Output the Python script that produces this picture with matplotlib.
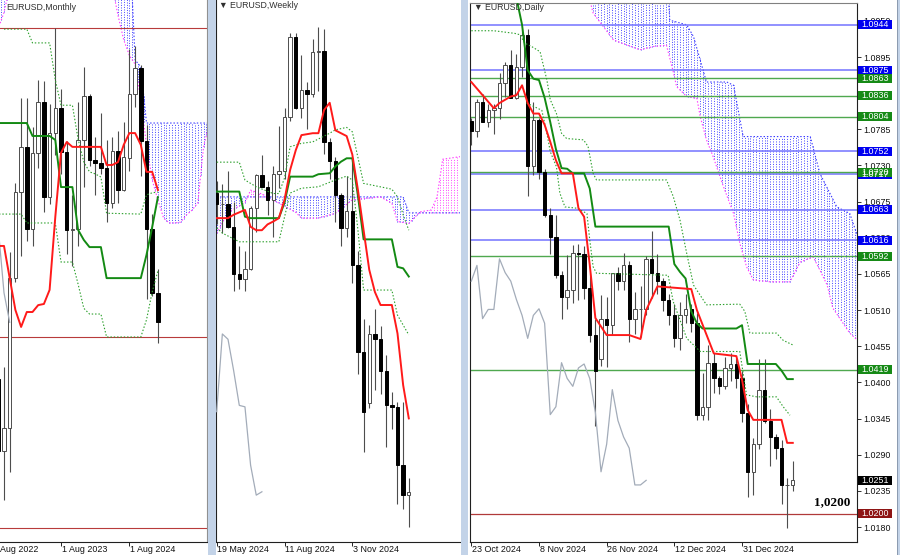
import numpy as np
import matplotlib
matplotlib.use('Agg')
import matplotlib.pyplot as plt
from matplotlib.patches import Rectangle
import matplotlib.transforms as mtransforms

plt.rcParams['font.family'] = ['Liberation Sans', 'DejaVu Sans']

# ---------------- monthly (Sep 2022 .. Jan 2025), idx 0 = Oct 2022
m_idx = np.arange(-1, 28)
m_open = [1.0054, 0.9802, 0.9884, 1.0406, 1.0705, 1.0863, 1.0576, 1.0839, 1.1017, 1.0689,
          1.0909, 1.0997, 1.0843, 1.0573, 1.0575, 1.0887, 1.1039, 1.0818, 1.0805, 1.0790,
          1.0667, 1.0848, 1.0713, 1.0825, 1.1047, 1.1135, 1.0882, 1.0577, 1.0354]
m_high = [1.0198, 1.0094, 1.0497, 1.0736, 1.1033, 1.1032, 1.0930, 1.1095, 1.1092, 1.1012,
          1.1276, 1.1065, 1.0882, 1.0695, 1.1017, 1.1140, 1.1046, 1.0898, 1.0981, 1.0885,
          1.0895, 1.0916, 1.0948, 1.1202, 1.1214, 1.1147, 1.0937, 1.0630, 1.0437]
m_low = [0.9536, 0.9632, 0.9730, 1.0393, 1.0483, 1.0533, 1.0516, 1.0788, 1.0635, 1.0662,
         1.0834, 1.0766, 1.0488, 1.0448, 1.0517, 1.0723, 1.0795, 1.0695, 1.0768, 1.0601,
         1.0650, 1.0668, 1.0709, 1.0777, 1.1001, 1.0761, 1.0333, 1.0343, 1.0178]
m_close = [0.9802, 0.9884, 1.0406, 1.0705, 1.0863, 1.0576, 1.0839, 1.1017, 1.0689, 1.0909,
           1.0997, 1.0843, 1.0573, 1.0575, 1.0887, 1.1039, 1.0818, 1.0805, 1.0790, 1.0667,
           1.0848, 1.0713, 1.0825, 1.1047, 1.1135, 1.0882, 1.0577, 1.0354, 1.0251]
m_tenkan = [1.0517, 1.0517, 1.0405, 1.0294, 1.0235, 1.0287, 1.0287, 1.0311, 1.0315, 1.0364,
            1.0618, 1.0841, 1.0879, 1.0862, 1.0862, 1.0862, 1.0862, 1.0862, 1.0862, 1.0799,
            1.0799, 1.0809, 1.0869, 1.0910, 1.0910, 1.0869, 1.0775, 1.0775, 1.0712]
m_kijun = [1.0945, 1.0945, 1.0945, 1.0945, 1.0945, 1.0945, 1.0900, 1.0900, 1.0900, 1.0900,
           1.0886, 1.0722, 1.0722, 1.0722, 1.0573, 1.0538, 1.0513, 1.0513, 1.0513, 1.0405,
           1.0405, 1.0405, 1.0405, 1.0405, 1.0405, 1.0405, 1.0486, 1.0583, 1.0687]
m_dot_hi_x = [0, 4, 5, 8, 9, 10, 12, 13, 14, 15, 16, 17, 18, 24, 25, 26, 27]
m_dot_hi = [1.1272, 1.1272, 1.1224, 1.1224, 1.1095, 1.1007, 1.1007, 1.0889, 1.0810, 1.0775,
            1.0768, 1.0757, 1.0631, 1.0628, 1.0695, 1.0702, 1.0705]
m_dot_lo_x = [-1, 3, 4, 9, 10, 12, 13, 14, 15, 17, 18, 24, 25, 26, 27]
m_dot_lo = [1.0628, 1.0628, 1.0597, 1.0597, 1.0461, 1.0461, 1.0384, 1.0300, 1.0280, 1.0280,
            1.0200, 1.0200, 1.0260, 1.0357, 1.0430]
m_span_x = [-1, 0, 1, 2, 18, 19, 20, 21, 22, 23, 24, 25, 26, 27, 28, 29, 30, 31, 32, 33, 34, 35, 36]
m_span_a = [1.16, 1.16, 1.16, np.nan, np.nan, 1.16, 1.16, 1.16, 1.16, 1.1165, 1.1140, 1.0945,
            1.0945, 1.0945, 1.0945, 1.0945, 1.0945, 1.0945, 1.0945, 1.0945, 1.0945, 1.0945, 1.0945]
m_span_b = [1.1275, 1.1330, 1.1420, np.nan, np.nan, 1.1420, 1.1320, 1.1235, 1.1180, 1.1150,
            1.1025, 1.0869, 1.0747, 1.0677, 1.0614, 1.0597, 1.0597, 1.0600, 1.0625, 1.0642,
            1.0667, 1.0860, 1.0945]
m_levels = [1.1275, 1.0200, 0.9535]

# ---------------- weekly (19 May 2024 .. 12 Jan 2025)
w_idx = np.arange(35)
w_open = [1.0870, 1.0847, 1.0848, 1.0800, 1.0703, 1.0692, 1.0713, 1.0840, 1.0907, 1.0882,
          1.0856, 1.0910, 1.0916, 1.1027, 1.1193, 1.1047, 1.1083, 1.1075, 1.1163, 1.1164,
          1.0975, 1.0937, 1.0866, 1.0797, 1.0833, 1.0720, 1.0541, 1.0435, 1.0578, 1.0567,
          1.0502, 1.0430, 1.0427, 1.0306, 1.0244]
w_high = [1.0895, 1.0889, 1.0916, 1.0852, 1.0761, 1.0749, 1.0844, 1.0910, 1.0948, 1.0895,
          1.0926, 1.1009, 1.1047, 1.1202, 1.1201, 1.1155, 1.1100, 1.1190, 1.1214, 1.1210,
          1.0985, 1.0945, 1.0870, 1.0905, 1.0937, 1.0750, 1.0610, 1.0597, 1.0630, 1.0594,
          1.0535, 1.0457, 1.0437, 1.0436, 1.0280]
w_low = [1.0805, 1.0788, 1.0797, 1.0668, 1.0671, 1.0666, 1.0710, 1.0789, 1.0887, 1.0825,
         1.0778, 1.0880, 1.0900, 1.1020, 1.1045, 1.1026, 1.1002, 1.1068, 1.1081, 1.0950,
         1.0900, 1.0811, 1.0761, 1.0778, 1.0683, 1.0496, 1.0333, 1.0424, 1.0461, 1.0453,
         1.0343, 1.0382, 1.0226, 1.0215, 1.0178]
w_close = [1.0847, 1.0848, 1.0800, 1.0703, 1.0692, 1.0713, 1.0840, 1.0907, 1.0882, 1.0856,
           1.0910, 1.0916, 1.1027, 1.1193, 1.1047, 1.1083, 1.1075, 1.1163, 1.1164, 1.0975,
           1.0937, 1.0866, 1.0797, 1.0833, 1.0720, 1.0541, 1.0417, 1.0578, 1.0567, 1.0502,
           1.0430, 1.0427, 1.0306, 1.0244, 1.0251]
w_tenkan = [1.0818, 1.0818, 1.0818, 1.0825, 1.0830, 1.0835, 1.0800, 1.0793, 1.0793, 1.0805,
            1.0811, 1.0818, 1.0856, 1.0918, 1.0959, 1.0990, 1.0992, 1.0994, 1.0994, 1.1042,
            1.1057, 1.1000, 1.0994, 1.0988, 1.0950, 1.0876, 1.0793, 1.0711, 1.0665, 1.0638,
            1.0638, 1.0638, 1.0579, 1.0472, 1.0403]
w_kijun = [1.0873, 1.0873, 1.0873, 1.0873, 1.0873, 1.0821, 1.0818, 1.0818, 1.0818, 1.0818,
           1.0818, 1.0818, 1.0850, 1.0904, 1.0904, 1.0904, 1.0904, 1.0904, 1.0909, 1.0910,
           1.0911, 1.0925, 1.0935, 1.0942, 1.0942, 1.0864, 1.0774, 1.0774, 1.0774, 1.0774,
           1.0774, 1.0774, 1.0717, 1.0714, 1.0697]
w_dot_hi_x = [0, 4, 5, 7, 10, 11, 12, 13, 15, 17, 20, 21, 23, 24, 26, 31, 32, 33, 34]
w_dot_hi = [1.0934, 1.0934, 1.0897, 1.0883, 1.0869, 1.0869, 1.0901, 1.0966, 1.0973, 1.0976,
            1.0994, 1.1001, 1.1006, 1.0997, 1.0890, 1.0878, 1.0862, 1.0825, 1.0793]
w_dot_lo_x = [0, 1, 4, 11, 12, 13, 15, 18, 21, 23, 24, 25, 26, 31, 32, 34]
w_dot_lo = [1.0798, 1.0787, 1.0769, 1.0769, 1.0820, 1.0870, 1.0880, 1.0883, 1.0897, 1.0905,
            1.0897, 1.0793, 1.0669, 1.0669, 1.0617, 1.0576]
w_span_a_x = [0, 33, 34, 44]
w_span_a = [1.0862, 1.0862, 1.0829, 1.0829]
w_span_b_x = [0, 2, 5, 6, 8, 9, 14, 15, 18, 21, 24, 29, 31, 32, 34, 36, 38, 39, 40, 44]
w_span_b = [1.0787, 1.0830, 1.0850, 1.0876, 1.0868, 1.0862, 1.0830, 1.0818, 1.0818, 1.0828,
            1.0856, 1.0862, 1.0849, 1.0811, 1.0807, 1.0831, 1.0835, 1.0862, 1.0940, 1.0947]

# ---------------- daily (23 Oct 2024 .. 14 Jan 2025)
d_idx = np.arange(58)
d_open = [1.0797, 1.0782, 1.0827, 1.0796, 1.0814, 1.0817, 1.0856, 1.0883, 1.0833, 1.0880,
          1.0928, 1.0729, 1.0799, 1.0720, 1.0655, 1.0621, 1.0564, 1.0530, 1.0540, 1.0597,
          1.0596, 1.0543, 1.0472, 1.0435, 1.0496, 1.0488, 1.0566, 1.0554, 1.0578, 1.0497,
          1.0511, 1.0511, 1.0588, 1.0567, 1.0554, 1.0526, 1.0502, 1.0467, 1.0502, 1.0512,
          1.0490, 1.0351, 1.0363, 1.0430, 1.0406, 1.0394, 1.0422, 1.0428, 1.0406, 1.0354,
          1.0264, 1.0306, 1.0389, 1.0342, 1.0317, 1.0300, 1.0244, 1.0244]
d_high = [1.0803, 1.0831, 1.0838, 1.0823, 1.0824, 1.0870, 1.0888, 1.0905, 1.0900, 1.0937,
          1.0937, 1.0827, 1.0802, 1.0725, 1.0665, 1.0654, 1.0570, 1.0594, 1.0609, 1.0610,
          1.0608, 1.0567, 1.0497, 1.0533, 1.0530, 1.0567, 1.0575, 1.0597, 1.0584, 1.0537,
          1.0547, 1.0593, 1.0630, 1.0595, 1.0559, 1.0534, 1.0520, 1.0523, 1.0535, 1.0520,
          1.0506, 1.0414, 1.0457, 1.0445, 1.0410, 1.0438, 1.0445, 1.0437, 1.0418, 1.0367,
          1.0315, 1.0436, 1.0436, 1.0359, 1.0322, 1.0312, 1.0254, 1.0280]
d_low = [1.0761, 1.0773, 1.0797, 1.0789, 1.0778, 1.0800, 1.0834, 1.0834, 1.0831, 1.0865,
         1.0683, 1.0716, 1.0710, 1.0651, 1.0595, 1.0559, 1.0496, 1.0512, 1.0521, 1.0525,
         1.0527, 1.0462, 1.0333, 1.0425, 1.0424, 1.0472, 1.0540, 1.0541, 1.0461, 1.0473,
         1.0469, 1.0502, 1.0528, 1.0534, 1.0508, 1.0487, 1.0454, 1.0450, 1.0490, 1.0476,
         1.0343, 1.0343, 1.0343, 1.0384, 1.0383, 1.0390, 1.0402, 1.0392, 1.0340, 1.0226,
         1.0229, 1.0299, 1.0338, 1.0273, 1.0283, 1.0215, 1.0178, 1.0235]
d_close = [1.0782, 1.0827, 1.0796, 1.0814, 1.0817, 1.0856, 1.0883, 1.0833, 1.0880, 1.0928,
           1.0729, 1.0799, 1.0720, 1.0655, 1.0621, 1.0564, 1.0530, 1.0540, 1.0597, 1.0596,
           1.0543, 1.0472, 1.0417, 1.0496, 1.0488, 1.0566, 1.0554, 1.0578, 1.0497, 1.0511,
           1.0511, 1.0588, 1.0567, 1.0554, 1.0526, 1.0502, 1.0467, 1.0502, 1.0512, 1.0490,
           1.0351, 1.0363, 1.0430, 1.0406, 1.0394, 1.0422, 1.0428, 1.0406, 1.0354, 1.0264,
           1.0306, 1.0389, 1.0342, 1.0317, 1.0300, 1.0244, 1.0244, 1.0251]
d_tenkan_x = [0, 4, 5, 7, 8, 9, 10, 11, 12, 13, 14, 15, 16, 18, 19, 20, 21, 22, 24, 28, 30,
              31, 33, 39, 40, 43, 47, 48, 49, 50, 55, 56, 57]
d_tenkan = [1.0857, 1.0817, 1.0825, 1.0835, 1.0837, 1.0852, 1.0825, 1.0809, 1.0809, 1.0792,
            1.0766, 1.0738, 1.0718, 1.0718, 1.0665, 1.0652, 1.0579, 1.0498, 1.0472, 1.0472,
            1.0466, 1.0510, 1.0546, 1.0542, 1.0510, 1.0444, 1.0440, 1.0404, 1.0358, 1.0343,
            1.0343, 1.0308, 1.0308]
d_kijun_x = [7, 8, 9, 10, 11, 12, 13, 14, 15, 16, 17, 18, 20, 21, 22, 35, 36, 37, 38, 39, 40,
             41, 47, 48, 49, 54, 55, 56, 57]
d_kijun = [1.1010, 1.0985, 1.0944, 1.0875, 1.0862, 1.0860, 1.0833, 1.0796, 1.0755, 1.0726,
           1.0725, 1.0718, 1.0718, 1.0695, 1.0637, 1.0637, 1.0580, 1.0568, 1.0558, 1.0508,
           1.0490, 1.0482, 1.0482, 1.0487, 1.0428, 1.0428, 1.0418, 1.0405, 1.0405]
d_dot_hi_x = [0, 4, 7.7, 8.6, 9.5, 10.7, 12.2, 13.4, 14.0, 15.1, 16.0, 16.9, 19.9, 20.7, 21.6,
              22.2, 34.6, 35.8, 37.0, 38.2, 39.4, 41.7, 47.6, 48.5, 49.4, 54.1, 55.3, 57]
d_dot_hi = [1.0935, 1.0935, 1.0931, 1.0929, 1.0916, 1.0911, 1.0903, 1.0860, 1.0830, 1.0809,
            1.0779, 1.0771, 1.0769, 1.0759, 1.0718, 1.0708, 1.0708, 1.0683, 1.0647, 1.0596,
            1.0548, 1.0518, 1.0519, 1.0508, 1.0475, 1.0475, 1.0464, 1.0457]
d_dot_lo_x = [9.8, 12.5, 13.4, 14.0, 15.1, 15.7, 16.6, 18.7, 20.5, 21.0, 21.6, 22.2, 34.9,
              35.8, 38.2, 39.4, 40.6, 47.6, 48.8, 50.6, 54.1, 55.3, 56.5]
d_dot_lo = [1.0825, 1.0814, 1.0779, 1.0751, 1.0728, 1.0688, 1.0667, 1.0665, 1.0657, 1.0617,
            1.0576, 1.0566, 1.0563, 1.0523, 1.0467, 1.0457, 1.0447, 1.0447, 1.0381, 1.0378,
            1.0378, 1.0363, 1.0350]
d_span_a_x = [20, 34.9, 35.2, 38.2, 39.4, 41.7, 45.3, 46.5, 48.2, 60.1, 61.8, 64.8, 67.1, 67.7, 69]
d_span_a = [1.1050, 1.0990, 1.0951, 1.0944, 1.0926, 1.0857, 1.0857, 1.0852, 1.0774, 1.0774,
            1.0718, 1.0667, 1.0657, 1.0642, 1.0610]
d_span_b_x = [20, 21.0, 21.6, 25.2, 29.9, 32.3, 34.6, 35.8, 36.4, 38.2, 40.0, 40.6, 41.7, 42.9,
              44.7, 46.5, 47.6, 48.8, 50.0, 53.0, 56.5, 58.3, 60.6, 61.8, 63.1, 64.1, 67.1, 69]
d_span_b = [1.1050, 1.0982, 1.0962, 1.0921, 1.0906, 1.0911, 1.0913, 1.0873, 1.0850, 1.0835,
            1.0832, 1.0804, 1.0769, 1.0743, 1.0698, 1.0657, 1.0612, 1.0576, 1.0556, 1.0553,
            1.0553, 1.0583, 1.0591, 1.0571, 1.0548, 1.0513, 1.0475, 1.0460]
d_blue_levels = [1.0944, 1.0875, 1.0752, 1.0717, 1.0663, 1.0616]
d_green_levels = [1.0863, 1.0836, 1.0804, 1.0720, 1.0592, 1.0419]
d_support = 1.0200
d_last = 1.0251
d_ticks = [1.0180, 1.0235, 1.0290, 1.0345, 1.0400, 1.0455, 1.0510, 1.0565, 1.0620, 1.0675,
           1.0730, 1.0785, 1.0840, 1.0895, 1.0950]

m_xlabels = [(-2, '1 Aug 2022'), (10, '1 Aug 2023'), (22, '1 Aug 2024')]
w_xlabels = [(0, '19 May 2024'), (12, '11 Aug 2024'), (24, '3 Nov 2024')]
d_xlabels = [(0, '23 Oct 2024'), (12, '8 Nov 2024'), (24, '26 Nov 2024'),
             (36, '12 Dec 2024'), (48, '31 Dec 2024')]

W, H = 900, 555
DOT = (0, (1.3, 1.7))
FS = 6.4


def place(x0, x1, top, bot):
    return [x0 / W, (H - bot) / H, (x1 - x0) / W, (bot - top) / H]


def candles(ax, x, o, h, l, c, width=0.6):
    x, o, h, l, c = [np.asarray(v, float) for v in (x, o, h, l, c)]
    ax.vlines(x, l, h, colors='#4d4d4d', lw=0.8, zorder=4)
    up = c >= o
    ax.bar(x[up], (c - o)[up], bottom=o[up], width=width, color='white',
           edgecolor='#4d4d4d', lw=0.7, zorder=5)
    ax.bar(x[~up], (o - c)[~up], bottom=c[~up], width=width, color='black',
           edgecolor='black', lw=0.7, zorder=5)


def cloud(ax, xa, a, xb, b, step):
    x0 = max(min(xa), min(xb))
    x1 = min(max(xa), max(xb))
    xs = np.arange(x0, x1, step)
    ya = np.interp(xs, xa, a)
    yb = np.interp(xs, xb, b)
    ok = np.isfinite(ya) & np.isfinite(yb)
    up = ok & (ya >= yb)
    dn = ok & (ya < yb)
    ax.vlines(xs[up], yb[up], ya[up], colors='#3c3cff', lw=0.6, linestyles=DOT, zorder=1)
    ax.vlines(xs[dn], ya[dn], yb[dn], colors='#ff3cff', lw=0.6, linestyles=DOT, zorder=1)
    ax.plot(xa, a, color='#3c3cff', lw=0.8, ls=DOT, zorder=1)
    ax.plot(xb, b, color='#ff3cff', lw=0.8, ls=DOT, zorder=1)


def ichimoku(ax, tx, t, kx, k, hx, hi, lx, lo, cx, cc):
    ax.plot(hx, hi, color='#2ca02c', lw=0.8, ls=DOT, zorder=6)
    ax.plot(lx, lo, color='#2ca02c', lw=0.8, ls=DOT, zorder=6)
    ax.plot(cx, cc, color='#a3acb9', lw=0.9, zorder=6)
    ax.plot(kx, k, color='#138a13', lw=1.4, zorder=7)
    ax.plot(tx, t, color='#ff1a1a', lw=1.4, zorder=7)


def xlabels(ax, labels):
    inside = [p for p, _ in labels if ax.get_xlim()[0] <= p <= ax.get_xlim()[1]]
    ax.set_xticks(inside)
    ax.tick_params(axis='x', direction='out', length=3, width=0.6, labelbottom=False)
    tr = mtransforms.blended_transform_factory(ax.transData, ax.transAxes)
    for p, s in labels:
        ax.text(p + 0.12, -0.006, s, transform=tr, ha='left', va='top',
                fontsize=FS, color='#111111', clip_on=False)


fig = plt.figure(figsize=(9, 5.55), dpi=100)
fig.patch.set_facecolor('white')

# monthly
ax1 = fig.add_axes(place(0, 207, 0, 541.7))
ax1.set_xlim((0 - 4) / 5.7, (207 - 4) / 5.7)
ax1.set_ylim(1.02 - (541.7 - 337) / 2872, 1.02 + 337 / 2872)
cloud(ax1, m_span_x, m_span_a, m_span_x, m_span_b, 0.5)
for lv in m_levels:
    ax1.axhline(lv, color='#b83b3b', lw=0.8, zorder=2)
candles(ax1, m_idx, m_open, m_high, m_low, m_close)
ichimoku(ax1, m_idx, m_tenkan, m_idx, m_kijun, m_dot_hi_x, m_dot_hi, m_dot_lo_x, m_dot_lo,
         m_idx[26:] - 26, m_close[26:])
ax1.text(6 / 207, 1 - 7 / 541.7, 'EURUSD,Monthly', transform=ax1.transAxes, va='center',
         fontsize=6.3, color='#303030', zorder=12)

# weekly
ax2 = fig.add_axes(place(216, 460, 0, 541.7))
ax2.set_xlim((216 - 216.7) / 5.65, (460 - 216.7) / 5.65)
ax2.set_ylim(1.0178 - 14.7 / 4826, 1.0178 + 527 / 4826)
cloud(ax2, w_span_a_x, w_span_a, w_span_b_x, w_span_b, 0.5)
candles(ax2, w_idx, w_open, w_high, w_low, w_close)
ichimoku(ax2, w_idx, w_tenkan, w_idx, w_kijun, w_dot_hi_x, w_dot_hi, w_dot_lo_x, w_dot_lo,
         w_idx[26:] - 26, w_close[26:])
ax2.text(3 / 244, 1 - 6 / 541.7, '\u25bc EURUSD,Weekly', transform=ax2.transAxes,
         va='center', fontsize=6.3, color='#303030', zorder=12)

# daily
ax3 = fig.add_axes(place(470, 856.7, 2.5, 541.7))
ax3.set_xlim((470 - 471.3) / 5.64, (856.7 - 471.3) / 5.64)
ax3.set_ylim(1.0180 - 14.7 / 6573, 1.0180 + (527 - 2.5) / 6573)
cloud(ax3, d_span_a_x, d_span_a, d_span_b_x, d_span_b, 0.5)
for lv in d_blue_levels:
    ax3.axhline(lv, color='#7373ff', lw=1.1, zorder=2)
for lv in d_green_levels:
    ax3.axhline(lv, color='#4fa84f', lw=1.0, zorder=2)
ax3.axhline(d_support, color='#b03a3a', lw=0.9, zorder=2)
candles(ax3, d_idx, d_open, d_high, d_low, d_close)
ichimoku(ax3, d_tenkan_x, d_tenkan, d_kijun_x, d_kijun, d_dot_hi_x, d_dot_hi, d_dot_lo_x, d_dot_lo,
         d_idx[26:] - 26, d_close[26:])
ax3.text(4 / 386.7, 1 - 5 / 539.2, '\u25bc EURUSD,Daily', transform=ax3.transAxes,
         va='center', fontsize=6.3, color='#303030', zorder=12)
ax3.text(60.8, 1.0218, '1,0200', fontfamily='Liberation Serif', fontweight='bold',
         fontsize=9.5, va='center', ha='left', zorder=12)

ax3.yaxis.tick_right()
ax3.set_yticks(d_ticks)
ax3.set_yticklabels([f'{v:.4f}' for v in d_ticks])
ax3.tick_params(axis='y', direction='out', length=3, width=0.6, pad=2, labelsize=FS,
                colors='#111111')

ytr = mtransforms.blended_transform_factory(ax3.transAxes, ax3.transData)
bw, bh = 34 / 386.7, 9 / 6573


def price_box(p, fc, tc='white'):
    x0 = 1 + 1 / 386.7
    ax3.add_patch(Rectangle((x0, p - bh / 2), bw, bh, transform=ytr, facecolor=fc,
                            edgecolor='none', clip_on=False, zorder=10))
    ax3.text(x0 + bw / 2, p, f'{p:.4f}', transform=ytr, ha='center', va='center',
             fontsize=FS, color=tc, clip_on=False, zorder=11)


for lv in d_blue_levels:
    price_box(lv, '#0000f0')
for lv in d_green_levels:
    price_box(lv, '#168a16')
price_box(d_last, '#000000')
price_box(d_support, '#8e1414')

for ax, labels in ((ax1, m_xlabels), (ax2, w_xlabels), (ax3, d_xlabels)):
    xlabels(ax, labels)
    for s in ax.spines.values():
        s.set_linewidth(0.8)
        s.set_color('#202020')

ax1.spines['left'].set_visible(False)
ax1.spines['top'].set_visible(False)
ax1.spines['right'].set_color('#909090')
ax1.set_yticks([])
ax2.spines['top'].set_visible(False)
ax2.spines['right'].set_visible(False)
ax2.set_yticks([])
ax3.spines['top'].set_color('#808080')

# window separators
for x0, w in ((207.5, 8), (460.5, 7.5), (897, 3)):
    fig.patches.append(Rectangle((x0 / W, 0), w / W, 1, transform=fig.transFigure,
                                 facecolor='#c3d3e8', edgecolor='none', zorder=0))
    fig.patches.append(Rectangle((x0 / W, 0), 0.8 / W, 1, transform=fig.transFigure,
                                 facecolor='#8c9bb0', edgecolor='none', zorder=0))

fig.savefig('out.png', dpi=100, facecolor='white')
